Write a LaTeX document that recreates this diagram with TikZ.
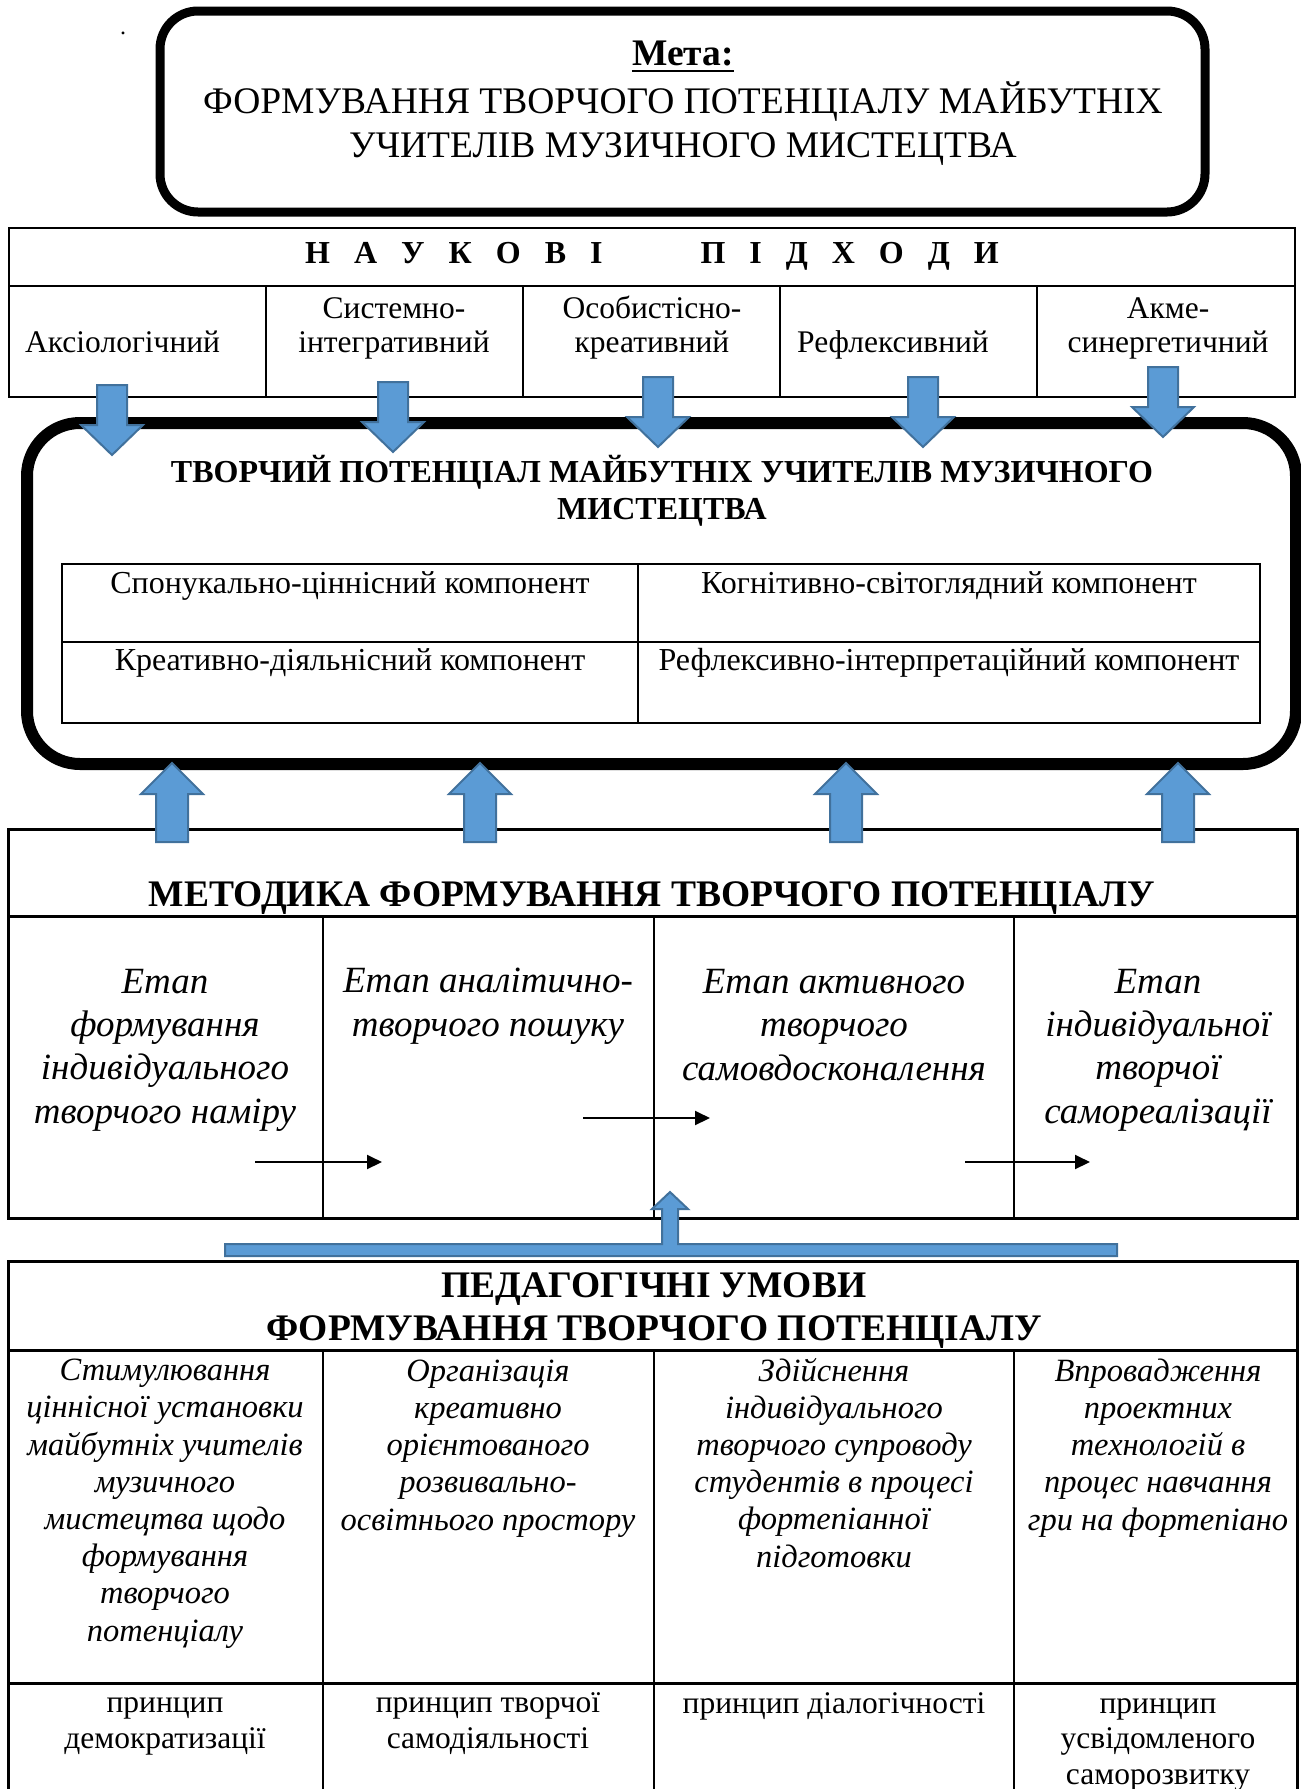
\documentclass[tikz,border=0pt]{standalone}
\usepackage{fontspec}
\setmainfont{Liberation Serif}
\usetikzlibrary{arrows.meta,calc}
\definecolor{arrfill}{RGB}{91,155,213}
\definecolor{arredge}{RGB}{65,113,156}
\newcommand{\fsz}[2]{\fontsize{#1}{#2}\selectfont}
\newcommand{\lsp}{\hspace{24pt}}
\newcommand{\blockarr}[5]{%
  \draw[blockarrow] let \p1=(#1), \p2=(#2) in
  (\x1-#3,\y1) -- (\x1+#3,\y1) -- (\x1+#3,\y2+#5) -- (\x1+#4,\y2+#5) -- (\x2,\y2)
  -- (\x1-#4,\y2+#5) -- (\x1-#3,\y2+#5) -- cycle;}
\begin{document}
\begin{tikzpicture}[x=1pt,y=-1pt,
  txt/.style={inner sep=0pt, anchor=base},
  mtxt/.style={inner sep=0pt, anchor=base, align=center},
  tbl/.style={line width=2.5pt},
  blockarrow/.style={fill=arrfill, draw=arredge, line width=2pt, line join=miter},
  smallarrow/.style={line width=2pt, -{Triangle[length=15pt,width=14pt]}},
  apfont/.style={font=\fsz{31.5}{34}},
  cmpfont/.style={font=\fsz{32}{36}},
  stagefont/.style={font=\fsz{37}{43.3}\itshape},
  condfont/.style={font=\fsz{32.5}{37.2}\itshape},
  prinfont/.style={font=\fsz{31.5}{35.5}}]
\useasboundingbox (0,0) rectangle (1301,1789);
% multi-line nodes are anchored at the baseline of their last line

% ---------- goal ----------
\draw[line width=9pt, rounded corners=38pt] (160,11) rectangle (1205,212);
\node[txt, font=\fsz{24}{28}] (dot) at (123,34) {.};
\node[txt, font=\fsz{37.5}{44}\bfseries] (meta) at (683,65) {Мета:};
\draw[line width=2.5pt] ([yshift=-6pt]meta.base west) -- ([yshift=-6pt]meta.base east);
\node[txt, font=\fsz{37.5}{44}] (goal1) at (683,113) {ФОРМУВАННЯ ТВОРЧОГО ПОТЕНЦІАЛУ МАЙБУТНІХ};
\node[txt, font=\fsz{37.5}{44}] (goal2) at (683,157) {УЧИТЕЛІВ МУЗИЧНОГО МИСТЕЦТВА};

% ---------- approaches ----------
\draw[tbl] (9,228) rectangle (1295,397);
\draw[tbl] (9,286) -- (1295,286);
\foreach \x in {266,523,780,1037} \draw[tbl] (\x,286) -- (\x,397);
\node[txt, font=\fsz{32}{38}\bfseries] (aphdr) at (652,263)
  {Н\lsp А\lsp У\lsp К\lsp О\lsp В\lsp І\hspace{98pt}П\lsp І\lsp Д\lsp Х\lsp О\lsp Д\lsp И};
\node[txt, anchor=base west, apfont] (ap1) at (25,352) {Аксіологічний};
\node[mtxt, apfont] (ap2) at (394,352) {Системно-\\інтегративний};
\node[mtxt, apfont] (ap3) at (652,352) {Особистісно-\\креативний};
\node[txt, anchor=base west, apfont] (ap4) at (797,352) {Рефлексивний};
\node[mtxt, apfont] (ap5) at (1168,352) {Акме-\\синергетичний};

% ---------- creative potential ----------
\draw[line width=12pt, rounded corners=53pt] (27,423) rectangle (1296,764);
\node[mtxt, font=\fsz{32}{37}\bfseries] (pot) at (662,519)
  {ТВОРЧИЙ ПОТЕНЦІАЛ МАЙБУТНІХ УЧИТЕЛІВ МУЗИЧНОГО\\МИСТЕЦТВА};
\draw[tbl] (62,564) rectangle (1260,723);
\draw[tbl] (62,642) -- (1260,642);
\draw[tbl] (638,564) -- (638,723);
\node[txt, cmpfont] (c1) at (350,593) {Спонукально-ціннісний компонент};
\node[txt, cmpfont] (c2) at (949,593) {Когнітивно-світоглядний компонент};
\node[txt, cmpfont] (c3) at (350,670) {Креативно-діяльнісний компонент};
\node[txt, cmpfont] (c4) at (949,670) {Рефлексивно-інтерпретаційний компонент};

% down block arrows
\foreach \k/\cx/\ty/\tp in {1/112/385/455, 2/393/382/452, 3/658/377/447, 4/923/377/447, 5/1163/367/437}{
  \coordinate (d\k-a) at (\cx,\ty);
  \coordinate (d\k-b) at (\cx,\tp);
  \blockarr{d\k-a}{d\k-b}{15pt}{31pt}{30pt}
}

% ---------- methodology ----------
\draw[line width=3pt] (8,829) rectangle (1297,1218);
\draw[line width=3pt] (8,916) -- (1297,916);
\foreach \x in {323,654,1014} \draw[line width=2pt] (\x,916) -- (\x,1218);
\node[txt, font=\fsz{37.5}{43}\bfseries] (meth) at (652,906) {МЕТОДИКА ФОРМУВАННЯ ТВОРЧОГО ПОТЕНЦІАЛУ};
\node[mtxt, stagefont] (s1) at (165,1123) {Етап\\формування\\індивідуального\\творчого наміру};
\node[mtxt, stagefont] (s2) at (488,1036) {Етап аналітично-\\творчого пошуку};
\node[mtxt, stagefont] (s3) at (834,1080) {Етап активного\\творчого\\самовдосконалення};
\node[mtxt, stagefont] (s4) at (1158,1123) {Етап\\індивідуальної\\творчої\\самореалізації};
\coordinate (a1s) at (255,1162); \coordinate (a1e) at (382,1162);
\coordinate (a2s) at (583,1118); \coordinate (a2e) at (710,1118);
\coordinate (a3s) at (965,1162); \coordinate (a3e) at (1090,1162);
\draw[smallarrow] (a1s) -- (a1e);
\draw[smallarrow] (a2s) -- (a2e);
\draw[smallarrow] (a3s) -- (a3e);

% up block arrows
\foreach \k/\cx in {1/172, 2/480, 3/846, 4/1178}{
  \coordinate (u\k-a) at (\cx,842);
  \coordinate (u\k-b) at (\cx,763);
  \blockarr{u\k-a}{u\k-b}{16pt}{31pt}{-31pt}
}

% bar with arrow to methodology
\coordinate (bartip) at (670,1192);
\draw[blockarrow] (225,1244) -- (662,1244) -- (662,1209) -- (652,1209) -- (bartip)
  -- (688,1209) -- (678,1209) -- (678,1244) -- (1117,1244) -- (1117,1256) -- (225,1256) -- cycle;

% ---------- pedagogical conditions ----------
\draw[line width=3pt] (8,1800) -- (8,1261) -- (1297,1261) -- (1297,1800);
\draw[line width=3pt] (8,1350) -- (1297,1350);
\draw[line width=3pt] (8,1683) -- (1297,1683);
\foreach \x in {323,654,1014} \draw[line width=2pt] (\x,1350) -- (\x,1800);
\node[mtxt, font=\fsz{37.5}{43}\bfseries] (cond) at (654,1340)
  {ПЕДАГОГІЧНІ УМОВИ\\ФОРМУВАННЯ ТВОРЧОГО ПОТЕНЦІАЛУ};
\node[mtxt, condfont] (k1) at (165,1641)
  {Стимулювання\\ціннісної установки\\майбутніх учителів\\музичного\\мистецтва щодо\\формування\\творчого\\потенціалу};
\node[mtxt, condfont] (k2) at (488,1530)
  {Організація\\креативно\\орієнтованого\\розвивально-\\освітнього простору};
\node[mtxt, condfont] (k3) at (834,1567)
  {Здійснення\\індивідуального\\творчого супроводу\\студентів в процесі\\фортепіанної\\підготовки};
\node[mtxt, condfont] (k4) at (1158,1530)
  {Впровадження\\проектних\\технологій в\\процес навчання\\гри на фортепіано};
\node[mtxt, prinfont] (p1) at (165,1748) {принцип\\демократизації};
\node[mtxt, prinfont] (p2) at (488,1748) {принцип творчої\\самодіяльності};
\node[mtxt, prinfont] (p3) at (834,1713) {принцип діалогічності};
\node[mtxt, prinfont] (p4) at (1158,1784) {принцип\\усвідомленого\\саморозвитку};
\end{tikzpicture}
\end{document}
